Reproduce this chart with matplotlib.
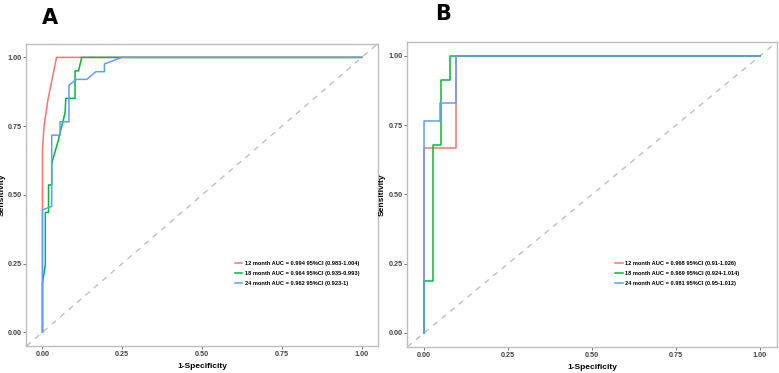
import matplotlib
matplotlib.use("Agg")
import matplotlib.pyplot as plt

plt.rcParams['font.family'] = ['Liberation Sans Narrow', 'Liberation Sans', 'DejaVu Sans']

# Panel A ROC curves (1-specificity, sensitivity)
a12_x = [0, 0, 0.005, 0.017, 0.044, 1]
a12_y = [0, 0.663, 0.75, 0.845, 1.0, 1.0]
a18_x = [0, 0, 0.009, 0.009, 0.019, 0.019, 0.029, 0.029, 0.05, 0.071, 0.073,
         0.102, 0.102, 0.113, 0.123, 1]
a18_y = [0, 0.178, 0.245, 0.436, 0.436, 0.536, 0.536, 0.614, 0.70, 0.80, 0.851,
         0.851, 0.951, 0.951, 1.0, 1.0]
a24_x = [0, 0, 0.026, 0.029, 0.029, 0.055, 0.055, 0.083, 0.083, 0.107, 0.139,
         0.167, 0.194, 0.194, 0.248, 1]
a24_y = [0, 0.445, 0.457, 0.457, 0.717, 0.717, 0.766, 0.766, 0.899, 0.92, 0.92,
         0.948, 0.948, 0.976, 1.0, 1.0]
a_labels = ["12 month AUC = 0.994 95%CI (0.983-1.004)",
            "18 month AUC = 0.964 95%CI (0.935-0.993)",
            "24 month AUC = 0.962 95%CI (0.923-1)"]

# Panel B ROC curves
b12_x = [0, 0, 0.094, 0.094, 1]
b12_y = [0, 0.666, 0.666, 1.0, 1.0]
b18_x = [0, 0, 0.025, 0.025, 0.05, 0.05, 0.077, 0.077, 1]
b18_y = [0, 0.186, 0.186, 0.678, 0.678, 0.915, 0.915, 1.0, 1.0]
b24_x = [0, 0, 0.047, 0.047, 0.094, 0.094, 1]
b24_y = [0, 0.766, 0.766, 0.829, 0.829, 1.0, 1.0]
b_labels = ["12 month AUC = 0.968 95%CI (0.91-1.026)",
            "18 month AUC = 0.969 95%CI (0.924-1.014)",
            "24 month AUC = 0.981 95%CI (0.95-1.012)"]

ticks = [0, 0.25, 0.5, 0.75, 1.0]
tick_labels = ["0.00", "0.25", "0.50", "0.75", "1.00"]
colors = ["#F8766D", "#00BA38", "#619CFF"]


def draw_roc(ax, curves, labels, leg_anchor, ylab_x):
    ax.axline((0, 0), (1, 1), color="#BEBEBE", lw=1.0, ls=(0, (4, 4)), zorder=1)
    for (xs, ys), lab, c in zip(curves, labels, colors):
        ax.plot(xs, ys, color=c, lw=1.1, label=lab, zorder=2)
    ax.set_xlim(-0.05, 1.05)
    ax.set_ylim(-0.05, 1.05)
    ax.set_xticks(ticks)
    ax.set_xticklabels(tick_labels)
    ax.set_yticks(ticks)
    ax.set_yticklabels(tick_labels)
    ax.tick_params(length=2, width=0.6, color="#555555", labelsize=5.2,
                   labelcolor="#444444", pad=1.5)
    for lab in ax.get_xticklabels() + ax.get_yticklabels():
        lab.set_fontweight("bold")
    for sp in ax.spines.values():
        sp.set_color("#BDBDBD")
        sp.set_linewidth(1.0)
    ax.set_xlabel("1-Specificity", fontsize=6, fontweight="bold")
    ax.set_ylabel("Sensitivity", fontsize=6, fontweight="bold")
    ax.xaxis.set_label_coords(0.5, -0.056)
    ax.yaxis.set_label_coords(ylab_x, 0.5)
    leg = ax.legend(loc="upper left", bbox_to_anchor=leg_anchor, frameon=False,
                    fontsize=4.1, handlelength=1.3, handletextpad=0.4,
                    labelspacing=0.95, borderpad=0)
    for t in leg.get_texts():
        t.set_fontweight("bold")


fig = plt.figure(figsize=(7.79, 3.73), dpi=100)

ax1 = fig.add_axes([0.034, 0.0724, 0.451, 0.8106])
draw_roc(ax1, [(a12_x, a12_y), (a18_x, a18_y), (a24_x, a24_y)], a_labels,
         (0.585, 0.292), -0.058)

ax2 = fig.add_axes([0.523, 0.0705, 0.474, 0.8165])
draw_roc(ax2, [(b12_x, b12_y), (b18_x, b18_y), (b24_x, b24_y)], b_labels,
         (0.555, 0.292), -0.058)

fig.text(50 / 779, 1 - 18 / 373, "A", fontsize=15, fontweight="bold",
         family="DejaVu Sans", ha="center", va="center")
fig.text(443 / 779, 1 - 14 / 373, "B", fontsize=15, fontweight="bold",
         family="DejaVu Sans", ha="center", va="center")

fig.savefig("out.png", dpi=100)
